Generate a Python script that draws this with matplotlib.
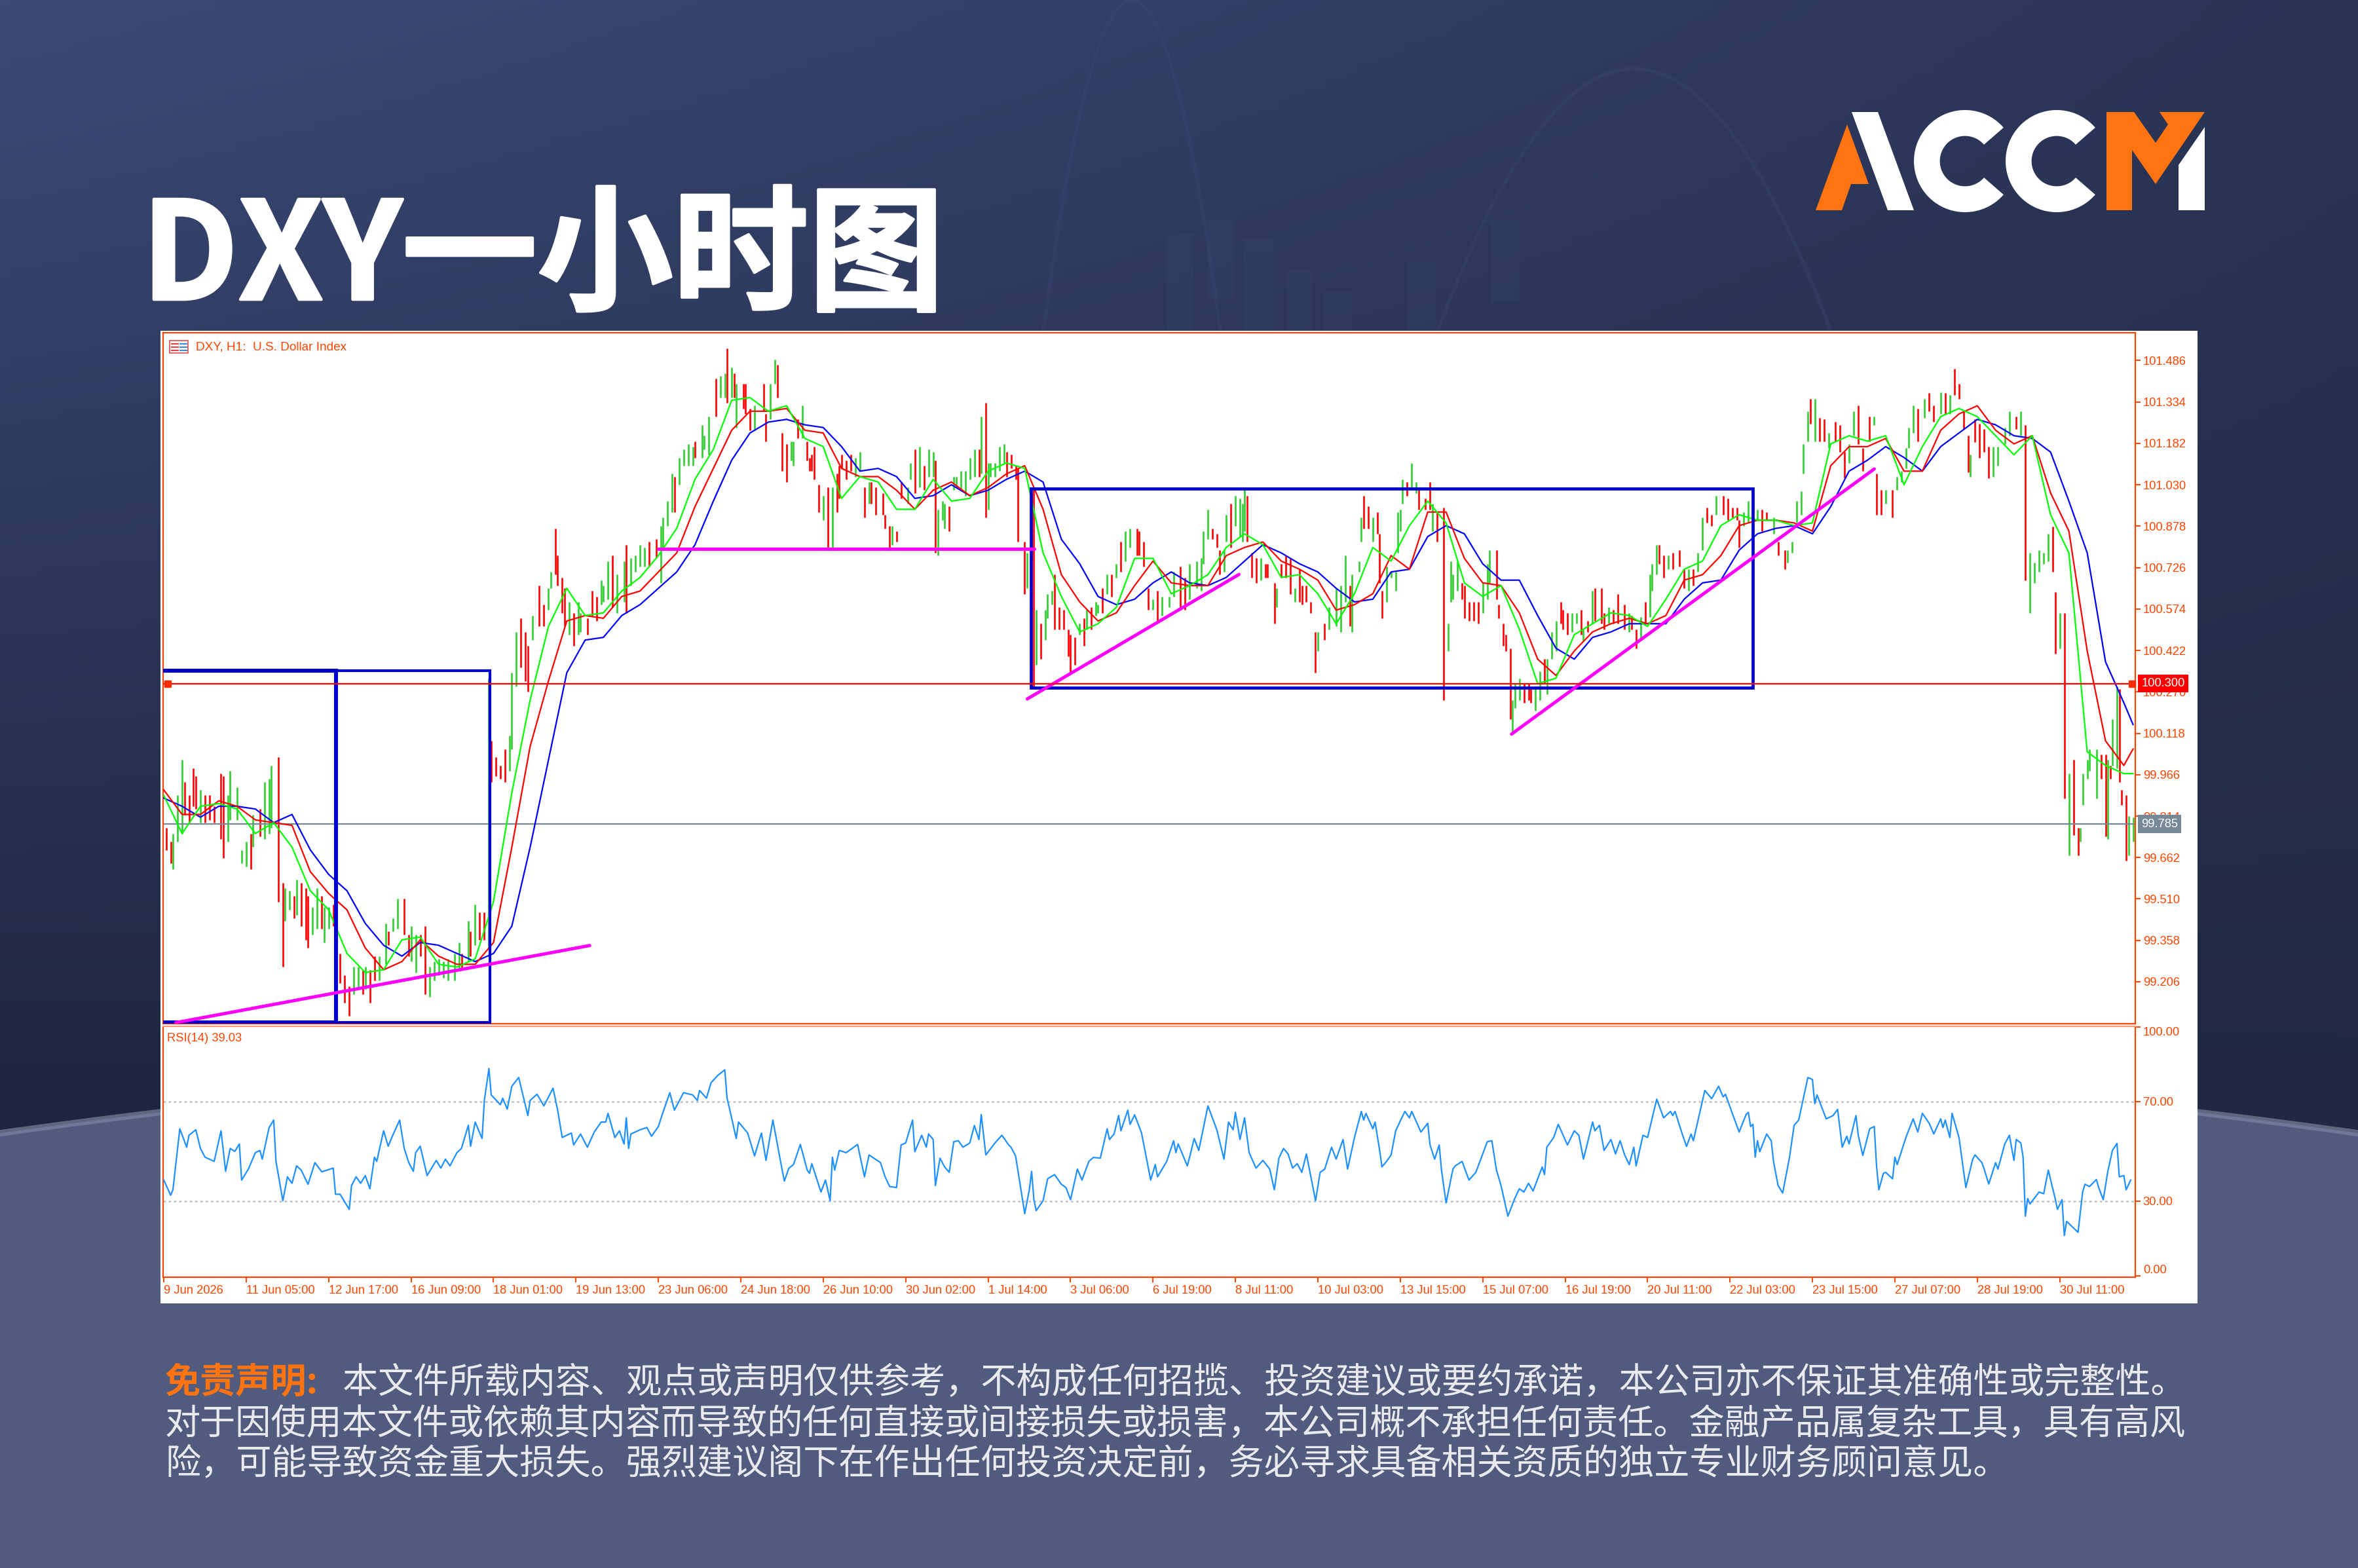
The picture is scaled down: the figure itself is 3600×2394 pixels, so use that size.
# -*- coding: utf-8 -*-

import numpy as np
import matplotlib

matplotlib.use("Agg")
import matplotlib.pyplot as plt
import matplotlib.patheffects as pe
from matplotlib.patches import Polygon, Rectangle

# ---------------
# Chart data
# x positions are hourly bars counted from 9 Jun 2026
# ---------------

bar_pos_a = [
    1, 3, 4, 6, 8, 9, 11, 13, 14, 16, 18, 20, 22, 25, 26, 28, 29, 32, 34, 36,
    38, 39, 42, 44, 46, 47, 50, 52, 53, 55, 57, 58, 60, 62, 63, 65, 67, 69, 70, 72,
    74, 75, 77, 79, 81, 83, 85, 87, 88, 90, 92, 94, 97, 98, 100, 102, 105, 107, 108, 110,
    112, 114, 116, 118, 120, 122, 124, 127, 129, 130, 133, 134, 136, 138, 140, 142, 143, 145, 147, 149,
    151, 152, 154, 156, 158, 159, 161, 164, 166, 168, 169, 171, 172, 174, 175, 177, 179, 181, 182, 185,
    187, 189, 191, 192, 194, 196, 198, 201, 202, 204, 206, 208, 210, 212, 215, 217, 218, 220, 222, 223,
    225, 227, 229, 231, 232, 235, 236, 238, 241, 243, 245, 246, 248, 249, 250, 253, 254, 256, 258, 262,
    263, 265, 267, 268, 270, 272, 274, 275, 277, 279, 281, 282,
]
bar_low_a = [
    99.69, 99.64, 99.62, 99.72, 99.75, 99.82, 99.79, 99.85, 99.84, 99.79, 99.79, 99.80, 99.79, 99.73, 99.66, 99.72, 99.80, 99.80, 99.64, 99.63,
    99.62, 99.70, 99.74, 99.73, 99.75, 99.77, 99.50, 99.26, 99.43, 99.47, 99.44, 99.45, 99.41, 99.36, 99.33, 99.38, 99.40, 99.40, 99.35, 99.40,
    99.41, 99.14, 99.20, 99.13, 99.08, 99.16, 99.18, 99.16, 99.18, 99.13, 99.21, 99.21, 99.27, 99.34, 99.39, 99.40, 99.38, 99.30, 99.28, 99.24,
    99.30, 99.16, 99.15, 99.21, 99.23, 99.22, 99.21, 99.21, 99.25, 99.25, 99.28, 99.30, 99.34, 99.36, 99.36, 99.33, 99.94, 99.96, 99.95, 99.94,
    99.98, 100.06, 100.29, 100.36, 100.31, 100.27, 100.46, 100.51, 100.51, 100.57, 100.65, 100.70, 100.66, 100.56, 100.51, 100.48, 100.44, 100.48, 100.49, 100.48,
    100.55, 100.53, 100.59, 100.60, 100.61, 100.58, 100.56, 100.60, 100.56, 100.66, 100.71, 100.73, 100.73, 100.73, 100.76, 100.67, 100.80, 100.88, 100.93, 100.93,
    101.03, 101.10, 101.10, 101.10, 101.13, 101.13, 101.16, 101.14, 101.28, 101.35, 101.35, 101.33, 101.35, 101.35, 101.24, 101.31, 101.29, 101.23, 101.23, 101.30,
    101.19, 101.27, 101.40, 101.35, 101.08, 101.04, 101.12, 101.10, 101.20, 101.20, 101.12, 101.08,
]
bar_high_a = [
    99.77, 99.72, 99.75, 99.89, 100.02, 99.94, 99.89, 99.99, 99.96, 99.91, 99.89, 99.89, 99.85, 99.97, 99.96, 99.89, 99.98, 99.92, 99.69, 99.72,
    99.75, 99.82, 99.84, 99.94, 99.95, 100.00, 100.03, 99.57, 99.55, 99.54, 99.52, 99.58, 99.57, 99.55, 99.52, 99.48, 99.55, 99.52, 99.48, 99.48,
    99.49, 99.30, 99.31, 99.23, 99.19, 99.26, 99.26, 99.25, 99.26, 99.25, 99.30, 99.30, 99.42, 99.39, 99.44, 99.51, 99.51, 99.38, 99.41, 99.38,
    99.38, 99.41, 99.26, 99.28, 99.29, 99.28, 99.29, 99.31, 99.35, 99.31, 99.43, 99.39, 99.49, 99.46, 99.46, 100.32, 100.09, 100.03, 100.00, 100.06,
    100.11, 100.34, 100.49, 100.54, 100.49, 100.44, 100.55, 100.66, 100.59, 100.65, 100.71, 100.87, 100.77, 100.69, 100.65, 100.60, 100.56, 100.60, 100.56, 100.54,
    100.64, 100.62, 100.68, 100.66, 100.75, 100.77, 100.70, 100.75, 100.81, 100.76, 100.77, 100.81, 100.80, 100.82, 100.83, 100.88, 100.91, 100.97, 101.07, 101.06,
    101.13, 101.16, 101.18, 101.17, 101.19, 101.25, 101.21, 101.28, 101.42, 101.43, 101.44, 101.53, 101.46, 101.44, 101.40, 101.40, 101.40, 101.31, 101.32, 101.40,
    101.29, 101.40, 101.49, 101.47, 101.22, 101.18, 101.19, 101.19, 101.27, 101.32, 101.19, 101.13,
]
bar_col_a = (
    "rrgggrrrrgrrrrrggggg"
    "rgrgggrrggrgrrrggrgg"
    "rgrrrggrgrrggrggrrgg"
    "rrgggggggrgrgrrgrrrr"
    "gggrrrgrrggrrrrgrggr"
    "rrgggrggrggggrrggggr"
    "ggggrgggrggrgrgrrrgr"
    "rggrrrggrgrr"
)

bar_pos_b = [
    283, 284, 286, 288, 290, 292, 294, 295, 296, 298, 300, 302, 304, 306, 308, 309, 311, 314, 315, 317,
    318, 320, 322, 325, 326, 328, 330, 332, 334, 336, 337, 338, 340, 341, 343, 345, 346, 348, 350, 352,
    354, 356, 357, 359, 360, 361, 363, 365, 367, 368, 370, 372, 373, 376, 377, 379, 380, 381, 383, 385,
    386, 388, 389, 391, 393, 395, 396, 398, 400, 402, 403, 405, 407, 408, 410, 412, 414, 416, 418, 420,
    422, 425, 426, 428, 430, 432, 434, 436, 439, 441, 444, 446, 448, 451, 453, 454, 456, 458, 460, 461,
    463, 464, 466, 468, 470, 471, 472, 473, 475, 477, 479, 481, 482, 485, 486, 488, 490, 492, 494, 496,
    497, 499, 501, 503, 504, 507, 509, 512, 514, 516, 518, 519, 522, 523, 524, 526, 528, 530, 531, 532,
    534, 536, 538, 539, 540, 541, 543, 545, 547, 548, 551, 553, 554, 556,
]
bar_low_b = [
    101.08, 101.05, 100.93, 100.90, 100.80, 100.80, 100.93, 100.98, 101.09, 101.05, 101.08, 101.06, 101.08, 100.91, 100.96, 100.96, 100.92, 100.92, 100.87, 100.80,
    100.81, 100.82, 100.98, 100.96, 101.05, 101.00, 101.02, 101.01, 101.06, 101.06, 100.78, 100.77, 100.90, 100.87, 100.86, 101.01, 101.02, 101.01, 100.99, 101.05,
    101.06, 101.06, 101.07, 100.91, 100.94, 101.06, 101.06, 101.08, 101.11, 101.06, 101.09, 101.05, 100.82, 100.63, 100.65, 100.75, 100.28, 100.37, 100.39, 100.46,
    100.54, 100.59, 100.50, 100.50, 100.50, 100.40, 100.34, 100.37, 100.48, 100.44, 100.50, 100.50, 100.55, 100.56, 100.56, 100.63, 100.62, 100.69, 100.71, 100.75,
    100.80, 100.77, 100.77, 100.73, 100.57, 100.57, 100.53, 100.55, 100.58, 100.62, 100.57, 100.57, 100.61, 100.65, 100.64, 100.74, 100.83, 100.83, 100.80, 100.70,
    100.71, 100.82, 100.80, 100.88, 100.84, 100.82, 100.86, 100.82, 100.69, 100.67, 100.68, 100.69, 100.69, 100.52, 100.58, 100.69, 100.69, 100.63, 100.60, 100.60,
    100.59, 100.60, 100.56, 100.34, 100.42, 100.46, 100.50, 100.51, 100.49, 100.60, 100.51, 100.49, 100.71, 100.82, 100.87, 100.87, 100.82, 100.85, 100.67, 100.54,
    100.60, 100.69, 100.64, 100.78, 100.86, 100.96, 100.99, 101.02, 101.00, 100.94, 100.94, 100.94, 100.86, 100.82,
]
bar_high_b = [
    101.14, 101.17, 101.03, 100.99, 101.02, 101.02, 101.07, 101.10, 101.14, 101.12, 101.14, 101.13, 101.15, 101.02, 101.04, 101.04, 101.02, 101.00, 100.92, 100.88,
    100.88, 100.86, 101.04, 101.02, 101.11, 101.16, 101.17, 101.10, 101.16, 101.15, 101.12, 100.94, 100.97, 100.96, 100.95, 101.06, 101.06, 101.08, 101.08, 101.13,
    101.16, 101.16, 101.28, 101.33, 101.11, 101.11, 101.11, 101.17, 101.18, 101.15, 101.14, 101.10, 101.09, 100.82, 100.78, 101.00, 101.02, 100.57, 100.52, 100.57,
    100.63, 100.64, 100.70, 100.58, 100.57, 100.50, 100.48, 100.47, 100.52, 100.54, 100.57, 100.58, 100.60, 100.59, 100.65, 100.70, 100.70, 100.74, 100.82, 100.86,
    100.87, 100.87, 100.86, 100.82, 100.65, 100.61, 100.64, 100.62, 100.62, 100.71, 100.73, 100.69, 100.74, 100.75, 100.76, 100.86, 100.94, 100.87, 100.85, 100.79,
    100.79, 100.92, 100.96, 100.99, 100.98, 100.96, 101.02, 100.99, 100.78, 100.76, 100.76, 100.74, 100.74, 100.67, 100.65, 100.74, 100.77, 100.76, 100.65, 100.72,
    100.66, 100.66, 100.60, 100.49, 100.49, 100.52, 100.58, 100.65, 100.66, 100.77, 100.66, 100.70, 100.75, 100.91, 100.99, 100.95, 100.91, 100.93, 100.85, 100.64,
    100.73, 100.71, 100.71, 100.93, 100.94, 101.05, 101.04, 101.11, 101.04, 101.01, 100.98, 101.04, 100.96, 100.93,
]
bar_col_b = (
    "rrrgrgrrrrrggrgrrrrr"
    "grrggrgrggrgggrggggg"
    "grgrgggggrrrrrggrgrg"
    "ggrrrrrrgrgrggrgrgrg"
    "grrrrgrgggrrgggggrrr"
    "ggrggggrrrgrrrgrrrgr"
    "rrrrgrggggrgggrrgrrr"
    "ggggggrggrrrgr"
)

bar_pos_c = [
    559, 561, 562, 563, 565, 567, 568, 570, 572, 574, 576, 578, 579, 582, 583, 585, 586, 588, 589, 590,
    592, 594, 596, 597, 599, 601, 603, 604, 606, 608, 610, 611, 613, 615, 617, 619, 620, 622, 624, 625,
    628, 629, 631, 633, 635, 638, 640, 641, 643, 645, 647, 649, 650, 652, 653, 655, 657, 659, 662, 664,
    666, 668, 670, 672, 674, 676, 678, 681, 683, 685, 687, 688, 690, 692, 694, 696, 698, 700, 703, 705,
    708, 709, 711, 713, 715, 716, 718, 719, 721, 723, 725, 727, 730, 732, 734, 736, 738, 740, 742, 745,
    747, 748, 750, 752, 755, 757, 759, 761, 762, 764, 766, 769, 771, 773, 776, 778, 780, 782, 784, 786,
    788, 789, 791, 793, 795, 797, 799, 801, 804, 806, 809, 811, 813, 815, 817, 819, 821, 823, 825, 826,
    828, 830, 832, 834, 836, 837, 838, 840, 841, 844, 846, 848, 849, 850, 851, 853, 854, 855, 857, 858, 860,
]
bar_low_c = [
    100.24, 100.42, 100.60, 100.61, 100.64, 100.61, 100.54, 100.53, 100.53, 100.52, 100.56, 100.61, 100.67, 100.61, 100.54, 100.44, 100.42, 100.17, 100.12, 100.21,
    100.24, 100.23, 100.24, 100.23, 100.20, 100.24, 100.30, 100.26, 100.39, 100.42, 100.52, 100.50, 100.48, 100.49, 100.52, 100.48, 100.455, 100.49, 100.52, 100.53,
    100.52, 100.50, 100.52, 100.52, 100.52, 100.50, 100.49, 100.50, 100.43, 100.46, 100.52, 100.545, 100.64, 100.70, 100.74, 100.69, 100.72, 100.72, 100.73, 100.65,
    100.64, 100.66, 100.71, 100.79, 100.89, 100.88, 100.92, 100.92, 100.90, 100.91, 100.90, 100.80, 100.88, 100.89, 100.79, 100.90, 100.86, 100.90, 100.85, 100.77,
    100.72, 100.745, 100.78, 100.89, 100.92, 101.07, 101.19, 101.255, 101.19, 101.19, 101.19, 101.166, 101.19, 101.15, 101.055, 101.11, 101.21, 101.18, 101.08, 101.19,
    101.25, 100.92, 100.92, 100.96, 100.91, 101.01, 101.04, 101.09, 101.166, 101.22, 101.19, 101.276, 101.30, 101.26, 101.29, 101.29, 101.29, 101.36, 101.345, 101.235,
    101.076, 101.06, 101.186, 101.13, 101.15, 101.055, 101.06, 101.10, 101.18, 101.21, 101.235, 101.21, 100.68, 100.56, 100.67, 100.71, 100.74, 100.75, 100.71, 100.41,
    100.43, 99.88, 99.67, 99.745, 99.67, 99.72, 99.855, 99.95, 99.98, 99.88, 99.95, 99.74, 99.73, 99.95, 100.00, 99.99, 99.94, 99.855, 99.65, 99.67, 99.72,
]
bar_high_c = [
    100.945, 100.52, 100.75, 100.70, 100.75, 100.67, 100.66, 100.60, 100.60, 100.60, 100.67, 100.74, 100.79, 100.79, 100.59, 100.52, 100.48, 100.43, 100.24, 100.30,
    100.32, 100.30, 100.30, 100.28, 100.28, 100.345, 100.39, 100.39, 100.49, 100.53, 100.60, 100.57, 100.56, 100.56, 100.56, 100.57, 100.50, 100.53, 100.64, 100.65,
    100.65, 100.56, 100.58, 100.57, 100.63, 100.59, 100.56, 100.55, 100.50, 100.545, 100.60, 100.70, 100.74, 100.81, 100.81, 100.77, 100.77, 100.78, 100.79, 100.72,
    100.72, 100.72, 100.78, 100.91, 100.945, 100.92, 100.99, 100.99, 100.98, 100.945, 100.945, 100.90, 100.93, 100.97, 100.92, 100.94, 100.94, 100.93, 100.91, 100.82,
    100.79, 100.79, 100.82, 100.97, 101.007, 101.18, 101.30, 101.345, 101.345, 101.276, 101.27, 101.22, 101.26, 101.25, 101.15, 101.18, 101.30, 101.32, 101.165, 101.28,
    101.28, 101.07, 101.01, 101.01, 101.01, 101.06, 101.08, 101.166, 101.24, 101.32, 101.31, 101.345, 101.366, 101.32, 101.37, 101.366, 101.36, 101.455, 101.40, 101.30,
    101.21, 101.14, 101.27, 101.255, 101.235, 101.17, 101.17, 101.17, 101.24, 101.30, 101.28, 101.30, 101.25, 100.78, 100.745, 100.79, 100.78, 100.85, 100.876, 100.635,
    100.56, 100.56, 99.97, 100.02, 99.77, 99.77, 99.97, 100.02, 100.06, 100.06, 100.04, 100.04, 100.02, 100.00, 100.17, 100.29, 100.28, 99.91, 99.89, 99.814, 99.81,
]
bar_col_c = (
    "rggggrrrrrgggrrrrrgg"
    "grrrggrgggrrrggrgrgr"
    "rrgrrrgrrgrgggrrgrrr"
    "grggrrgrrrrrggrgrrgr"
    "rggggggrgrrgrrrggrrr"
    "grrgrgggggrgrrgrgrrr"
    "rgrrrrggggrgrgggggrr"
    "grgrrgggggrrgrggrrrgg"
)

ma_pos = list(range(0, 864, 8)) + [860]
ma_green = [
    99.89, 99.75, 99.85, 99.86, 99.84, 99.75, 99.79, 99.70, 99.54, 99.47, 99.31, 99.24, 99.25, 99.36, 99.37, 99.27, 99.26, 99.29,
    99.50, 99.90, 100.24, 100.51, 100.65, 100.55, 100.56, 100.64, 100.69, 100.77, 100.87, 101.05, 101.16, 101.34, 101.35, 101.30, 101.32, 101.20,
    101.17, 100.98, 101.06, 101.04, 100.94, 100.94, 101.05, 100.97, 100.98, 101.08, 101.11, 101.09, 100.78, 100.62, 100.49, 100.52, 100.58, 100.76,
    100.76, 100.63, 100.66, 100.70, 100.80, 100.85, 100.81, 100.69, 100.70, 100.63, 100.52, 100.63, 100.80, 100.75, 100.88, 100.97, 100.89, 100.67,
    100.62, 100.66, 100.50, 100.30, 100.32, 100.48, 100.52, 100.56, 100.55, 100.51, 100.61, 100.72, 100.75, 100.88, 100.92, 100.90, 100.90, 100.88,
    100.89, 101.18, 101.21, 101.19, 101.21, 101.03, 101.17, 101.28, 101.31, 101.28, 101.21, 101.14, 101.21, 100.92, 100.78, 100.05, 100.00, 99.97, 99.97,
]
ma_red = [
    99.91, 99.82, 99.82, 99.87, 99.85, 99.80, 99.79, 99.78, 99.61, 99.53, 99.47, 99.33, 99.25, 99.28, 99.36, 99.30, 99.27, 99.27,
    99.35, 99.70, 100.07, 100.31, 100.53, 100.55, 100.54, 100.62, 100.64, 100.71, 100.78, 100.95, 101.09, 101.23, 101.30, 101.30, 101.31, 101.23,
    101.22, 101.09, 101.06, 101.06, 101.01, 100.94, 101.01, 101.04, 100.99, 101.02, 101.07, 101.10, 100.94, 100.70, 100.60, 100.53, 100.56, 100.66,
    100.75, 100.67, 100.66, 100.66, 100.77, 100.80, 100.82, 100.75, 100.72, 100.68, 100.57, 100.59, 100.63, 100.77, 100.72, 100.93, 100.93, 100.76,
    100.67, 100.66, 100.56, 100.39, 100.33, 100.42, 100.49, 100.52, 100.54, 100.52, 100.55, 100.68, 100.70, 100.77, 100.88, 100.90, 100.90, 100.89,
    100.86, 101.10, 101.17, 101.17, 101.20, 101.08, 101.08, 101.23, 101.29, 101.32, 101.23, 101.18, 101.21, 101.00, 100.86, 100.42, 100.09, 100.00, 100.06,
]
ma_blue = [
    99.88, 99.85, 99.81, 99.85, 99.85, 99.84, 99.79, 99.82, 99.69, 99.60, 99.54, 99.42, 99.34, 99.30, 99.35, 99.34, 99.31, 99.28,
    99.31, 99.41, 99.70, 100.02, 100.34, 100.46, 100.47, 100.55, 100.59, 100.65, 100.71, 100.81, 100.97, 101.12, 101.22, 101.26, 101.27, 101.25,
    101.24, 101.17, 101.08, 101.09, 101.06, 100.98, 100.99, 101.03, 100.99, 101.01, 101.05, 101.08, 101.04, 100.83, 100.74, 100.62, 100.59, 100.61,
    100.67, 100.71, 100.67, 100.66, 100.69, 100.75, 100.81, 100.78, 100.74, 100.71, 100.65, 100.60, 100.61, 100.71, 100.72, 100.84, 100.88, 100.85,
    100.74, 100.68, 100.68, 100.55, 100.43, 100.39, 100.47, 100.49, 100.52, 100.52, 100.52, 100.61, 100.67, 100.68, 100.79, 100.85, 100.87, 100.88,
    100.85, 100.95, 101.08, 101.12, 101.17, 101.13, 101.08, 101.17, 101.22, 101.27, 101.25, 101.21, 101.20, 101.15, 100.97, 100.78, 100.38, 100.23, 100.15,
]

rsi_pos = [
    0, 3, 4, 7, 10, 11, 14, 16, 18, 22, 25, 27, 29, 31, 33, 34, 37, 40, 42, 43, 46, 48, 49, 52, 54, 56, 58, 60, 63, 66,
    69, 74, 75, 77, 81, 82, 84, 86, 88, 90, 92, 93, 96, 98, 100, 103, 105, 107, 109, 110, 112, 115, 119, 121, 123, 125, 128, 130, 133, 134,
    136, 139, 140, 142, 143, 147, 148, 150, 152, 155, 159, 160, 163, 166, 170, 172, 174, 178, 179, 182, 185, 188, 191, 193, 194, 197, 199, 201, 202, 203,
    204, 208, 211, 213, 216, 218, 221, 223, 227, 231, 233, 234, 237, 239, 242, 245, 246, 247, 250, 251, 255, 258, 261, 263, 266, 269, 271, 273, 275, 278,
    281, 282, 283, 287, 289, 291, 292, 293, 295, 298, 303, 306, 308,
    313, 315, 317, 320, 322, 324, 327, 328, 331, 333, 334, 336, 337, 339, 341, 343, 345, 347, 349, 352, 354, 356, 357, 359, 363, 366, 369, 370, 372, 376,
    378, 379, 380, 381, 384, 386, 389, 392, 394, 396, 399, 401, 404, 406, 409, 412, 413, 415, 417, 418, 421, 422, 424, 427, 431, 433, 434, 438, 441, 442,
    443, 447, 448, 450, 452, 456, 459, 460, 463, 465, 467, 468, 470, 472, 474, 477, 480, 483, 485, 487, 489, 491, 493, 495, 497, 499, 503, 505, 507, 510,
    512, 515, 517, 520, 523, 524, 525, 528, 529, 531, 532, 534, 536, 538, 542, 544, 545, 549, 552, 553, 555, 557, 558, 560, 563, 564, 567, 570, 573, 578,
    580, 582, 584, 587, 590, 592, 594, 596, 598, 602, 603, 604, 607, 609, 613,
    616, 618, 620, 624, 625, 627, 629, 632, 634, 636, 638, 640, 642, 643, 646, 648, 652, 655, 658, 659, 660, 663, 665, 667, 668, 673, 676, 679, 681, 682,
    685, 688, 691, 692, 693, 694, 695, 696, 697, 700, 702, 703, 705, 707, 710, 712, 714, 718, 720, 721, 722, 726, 729, 731, 733, 735, 736, 739, 740, 742,
    745, 747, 748, 749, 751, 752, 755, 756, 757, 761, 764, 766, 768, 771, 773, 776, 777, 778, 780, 781, 784, 787, 790, 791, 794, 795, 797, 800, 801, 804,
    806, 808, 809, 811, 812, 813, 814, 815, 819, 821, 823, 826, 827, 829, 830, 831, 836, 838, 839, 841, 844, 845, 847, 849, 851, 853, 854, 856, 857, 859,
]
rsi_val = [
    38.5, 32.4, 34.6, 59.1, 51.7, 56.5, 58.7, 51.2, 47.7, 46, 58.3, 42, 51.2, 50, 53, 38.5, 43, 49.5, 50.4, 46.9, 59.6, 62.6, 46, 30.2, 39.8, 37.2, 44.2, 42.5, 36.8, 45.5,
    41.8, 43.3, 32.8, 32.8, 26.7, 36.3, 39.8, 37.2, 40.3, 35, 47.7, 46, 58.3, 52.1, 56.5, 62.6, 51.2, 45.5, 42, 49.5, 52.1, 40.3, 46.4, 43.3, 46.9, 44.2, 49.5, 51.2, 60.5, 52.1,
    61.8, 55.2, 70.5, 83.3, 72.7, 68.8, 71.4, 67, 76.2, 79.7, 64.4, 70.5, 73, 68.3, 75.4, 66.6, 55.6, 57.4, 52.6, 57, 51.7, 57.8, 61.8, 61.8, 65.3, 55.6, 58.3, 53, 63.5, 51.2,
    57, 58.7, 59.6, 56.1, 60, 65.7, 73.6, 66.6, 73.6, 72.7, 70.5, 74.5, 71.4, 77.6, 80.6, 82.8, 71.4, 67.5, 55.2, 61.8, 57.4, 48.2, 57.4, 46.4, 62.6, 47.7, 38.1, 43.3, 44.7, 52.8,
    42.5, 41.2, 45.1, 33.7, 38.5, 30.2, 47.7, 42.5, 50.4, 49.5, 52.8, 39.8, 48.6,
    45.5, 39.8, 35.9, 35.5, 52.6, 53.4, 62.6, 49.9, 56.5, 51.7, 57, 54.8, 36.3, 47.3, 43.8, 41.6, 53.9, 54.3, 51.7, 53.4, 60.4, 54.8, 64.8, 48.6, 53.4, 56.5, 52.6, 51.7, 48.2, 25,
    34.6, 42, 30.6, 26.2, 30.2, 39, 40.7, 36.8, 35.5, 30.6, 42.9, 38.5, 46, 47.6, 47.3, 59.1, 54.8, 57, 64.4, 58.3, 66.6, 60.9, 64.7, 57.4, 38.5, 44.7, 39.8, 46, 54.3, 49.5,
    53, 44.2, 47.7, 55.2, 50.4, 68.3, 60.9, 58.3, 46.9, 61.8, 58.7, 65.7, 54.8, 63.5, 49.5, 43.3, 46.4, 42.9, 34.6, 47.3, 51.2, 49, 43.3, 45.1, 41.6, 49, 30.2, 41.6, 42.9, 51.7,
    46.9, 54.8, 42.9, 55.6, 66.1, 62.6, 65.3, 59.1, 61.8, 50.4, 43.8, 46, 48.6, 58.3, 66.1, 63.5, 66.1, 57.8, 61.3, 52.6, 46.9, 52.6, 42.5, 29.3, 42.9, 44.2, 46, 38.5, 41.6, 53.9,
    54.3, 42.5, 36.3, 24, 31.1, 35, 33.7, 37.2, 34.1, 43.8, 40.7, 51.7, 55.6, 60.9, 52.6,
    58.3, 56.5, 46.9, 61.8, 58.3, 60.5, 50.4, 54.8, 49, 54.3, 48.6, 44.7, 51.7, 44.2, 56.5, 55.6, 71, 63.5, 66.1, 64.4, 66.1, 57.4, 52, 57, 54.3, 74.5, 71.2, 76.2, 71.9, 73,
    65.3, 57.8, 64.8, 65.7, 60, 60.9, 47.7, 54.3, 49.9, 57, 54.3, 46, 36.3, 33.3, 47.7, 60.5, 62.6, 79.7, 78.9, 69.2, 72.7, 63.1, 64.4, 66.9, 51.7, 56.1, 53, 64.4, 56.5, 48.4,
    59.1, 60, 44.2, 34.6, 41.2, 41.6, 39, 47.7, 44.7, 56.1, 63.1, 57.8, 65.3, 61.3, 57, 63.1, 59.6, 62.6, 55.6, 65.3, 55.6, 35.5, 46.9, 48.6, 45.5, 42.9, 36.9, 45.5, 42.9, 53,
    56.5, 46.4, 54.8, 53.4, 47.7, 24, 31.1, 28.9, 33.7, 33, 42.5, 31.1, 26.7, 30.6, 16.2, 21.9, 17.5, 33.7, 36.8, 35.9, 38.7, 35.5, 30.6, 42, 50.4, 53.2, 39.8, 40.3, 34.6, 38.5,
]

# Hand drawn objects on the chart: bar positions and prices
box_left = (-3.0, 75.2, 99.057, 100.348)
box_mid = (75.2, 142.5, 99.057, 100.348)
box_right = (378.8, 694.0, 100.285, 101.017)
trend_1 = ([5.3, 186.0], [99.056, 99.339])
trend_2 = ([216.0, 380.2], [100.794, 100.794])
trend_3 = ([377.1, 469.6], [100.244, 100.701])
trend_4 = ([588.6, 747.0], [100.115, 101.088])
level_red = 100.300
level_last = 99.785

price_ticks = [101.486, 101.334, 101.182, 101.030, 100.878, 100.726, 100.574, 100.422,
               100.270, 100.118, 99.966, 99.814, 99.662, 99.510, 99.358, 99.206]
date_labels = ["9 Jun 2026", "11 Jun 05:00", "12 Jun 17:00", "16 Jun 09:00", "18 Jun 01:00",
               "19 Jun 13:00", "23 Jun 06:00", "24 Jun 18:00", "26 Jun 10:00", "30 Jun 02:00",
               "1 Jul 14:00", "3 Jul 06:00", "6 Jul 19:00", "8 Jul 11:00", "10 Jul 03:00",
               "13 Jul 15:00", "15 Jul 07:00", "16 Jul 19:00", "20 Jul 11:00", "22 Jul 03:00",
               "23 Jul 15:00", "27 Jul 07:00", "28 Jul 19:00", "30 Jul 11:00"]
rsi_ticks = [100, 70, 30, 0]

disclaimer_head = "免责声明:"
disclaimer_1 = "本文件所载内容、观点或声明仅供参考\uff0c不构成任何招揽、投资建议或要约承诺\uff0c本公司亦不保证其准确性或完整性。"
disclaimer_2 = "对于因使用本文件或依赖其内容而导致的任何直接或间接损失或损害\uff0c本公司概不承担任何责任。金融产品属复杂工具\uff0c具有高风"
disclaimer_3 = "险\uff0c可能导致资金重大损失。强烈建议阁下在作出任何投资决定前\uff0c务必寻求具备相关资质的独立专业财务顾问意见。"

# ---------------
# Layout (pixels of the 3600x2394 picture)
# ---------------

W, H = 3600, 2394
AX_L, AX_R = 249, 3260
MAIN_T, MAIN_B = 508, 1563
RSI_T, RSI_B = 1567, 1950
ORANGE = "#ff4500"
ORANGE_LOGO = "#ff7310"
TICK_FONT = "Liberation Sans"
TICK_SIZE = 13.2
CJK = ["Noto Sans CJK SC", "DejaVu Sans"]
BLUE_BOX = "#0000cd"
MAGENTA = "#ff00ff"


def px_axes(left, top, right, bottom):
    return fig.add_axes([left / W, 1 - bottom / H, (right - left) / W, (bottom - top) / H])


fig = plt.figure(figsize=(W / 100, H / 100), dpi=100)

# ---------------
# Background, logo and big texts
# ---------------

deco = fig.add_axes([0, 0, 1, 1], zorder=0)

u, v = np.meshgrid(np.linspace(0, 1, 240), np.linspace(0, 1, 160))
tl, tr = np.array([0x3b, 0x4a, 0x77]), np.array([0x2a, 0x34, 0x55])
bl, br = np.array([0x1d, 0x24, 0x3e]), np.array([0x20, 0x28, 0x42])
grad = np.zeros(u.shape + (3,))
for n in range(3):
    top_row = tl[n] * (1 - u) + tr[n] * u
    low_row = bl[n] * (1 - u) + br[n] * u
    grad[..., n] = (top_row * (1 - v) + low_row * v) / 255
deco.imshow(grad, extent=(0, W, 1760, 0), aspect="auto", zorder=0)
deco.set_xlim(0, W)
deco.set_ylim(H, 0)
deco.axis("off")

# faint shapes behind the title
for x0, peak, half, ybase in [(1728, 0, 135, 505), (2495, 105, 300, 505)]:
    xs = np.linspace(x0 - half * 1.2, x0 + half * 1.2, 80)
    ys = peak + (ybase - peak) * ((xs - x0) / half) ** 2
    deco.plot(xs, ys, color="#3d4b76", lw=4, alpha=0.3, zorder=1)
for x0, x1, y0, y1 in [(1782, 1822, 355, 505), (1844, 1885, 335, 455), (1898, 1944, 365, 505),
                       (1964, 2005, 412, 505), (2022, 2064, 443, 505), (2147, 2192, 400, 505),
                       (2275, 2320, 335, 462)]:
    deco.add_patch(Rectangle((x0, y0), x1 - x0, y1 - y0, fc="#3d4b76", ec="none", alpha=0.2, zorder=1))

# lower band with its arched edge
arc_x = np.linspace(0, W, 200)
arc_y = 1599 + 3.893e-5 * (arc_x - 1800) ** 2
deco.fill_between(arc_x, arc_y, H, color="#5f667f", lw=0, zorder=2)
deco.fill_between(arc_x, arc_y + 5, H, color="#6e7898", lw=0, zorder=2)
deco.fill_between(arc_x, arc_y + 10, H, color="#505b7e", lw=0, zorder=2)

# logo
deco.add_patch(Polygon([(2772, 321), (2820, 190), (2853, 281), (2826, 281), (2812, 321)], fc=ORANGE_LOGO, ec="none", zorder=5))
deco.add_patch(Polygon([(2827, 171), (2867, 171), (2922, 321), (2882, 321)], fc="white", ec="none", zorder=5))
ang = np.radians(np.linspace(41, 319, 90))
for cx in [3000, 3140]:
    ring = np.concatenate([
        np.column_stack([cx + 78 * np.cos(ang), 246 - 78 * np.sin(ang)]),
        np.column_stack([cx + 38.4 * np.cos(ang[::-1]), 246 - 38.4 * np.sin(ang[::-1])]),
    ])
    deco.add_patch(Polygon(ring, fc="white", ec="none", zorder=5))
deco.add_patch(Polygon([(3216, 171), (3258, 171), (3291, 218), (3310, 190), (3297, 171), (3366, 171), (3291, 281),
                        (3255, 229), (3255, 321), (3216, 321)], fc=ORANGE_LOGO, ec="none", zorder=5))
deco.add_patch(Polygon([(3366, 194), (3366, 321), (3326, 321), (3326, 252)], fc="white", ec="none", zorder=5))

deco.text(216, 397, "DXY一小时图", color="white", fontsize=149, fontweight="bold", family=CJK,
          va="center", ha="left", zorder=5,
          path_effects=[pe.withStroke(linewidth=3, foreground="white")])

deco.text(252, 2111, disclaimer_head, color=ORANGE_LOGO, fontsize=39, fontweight="bold", family=CJK,
          va="center", ha="left", zorder=5)
for x_txt, y_txt, line in [(523, 2111, disclaimer_1), (252, 2174, disclaimer_2), (252, 2236, disclaimer_3)]:
    deco.text(x_txt, y_txt, line, color="#e9e9ee", fontsize=39, family=CJK, va="center", ha="left", zorder=5)

# white chart panel
deco.add_patch(Rectangle((245, 505), 3355 - 245, 1990 - 505, fc="white", ec="none", zorder=4))

# legend icon and captions
deco.add_patch(Rectangle((259, 520), 28, 19, fc="#f4f4f4", ec="#d9534f", lw=1.2, zorder=5))
for yy in [525, 530, 535]:
    deco.plot([262, 272], [yy, yy], color="#e03030", lw=1.3, zorder=6)
    deco.plot([275, 285], [yy, yy], color="#2a7fd0", lw=1.3, zorder=6)
deco.text(299, 530, "DXY, H1:  U.S. Dollar Index", color=ORANGE, fontsize=13.7, family=TICK_FONT,
          va="center", ha="left", zorder=6)
deco.text(255, 1585, "RSI(14) 39.03", color=ORANGE, fontsize=TICK_SIZE, family=TICK_FONT,
          va="center", ha="left", zorder=6)

# ---------------
# Price panel
# ---------------

bar_pos = bar_pos_a + bar_pos_b + bar_pos_c
bar_low = bar_low_a + bar_low_b + bar_low_c
bar_high = bar_high_a + bar_high_b + bar_high_c
bar_col = bar_col_a + bar_col_b + bar_col_c
assert len(bar_pos) == len(bar_low) == len(bar_high) == len(bar_col)
assert len(ma_pos) == len(ma_green) == len(ma_red) == len(ma_blue)
assert len(rsi_pos) == len(rsi_val)

ax = px_axes(AX_L, MAIN_T, AX_R, MAIN_B)
ax.set_zorder(2)
ax.patch.set_visible(False)
ax.set_xlim(-0.3, 861)
ax.set_ylim(99.052, 101.588)

colors = ["#ff0000" if c == "r" else "#32cd32" for c in bar_col]
ax.vlines(bar_pos, bar_low, bar_high, colors=colors, lw=1.9, zorder=2)

ax.plot(ma_pos, ma_blue, color="#0000ff", lw=1.6, zorder=3)
ax.plot(ma_pos, ma_red, color="#ff0000", lw=1.6, zorder=3.1)
ax.plot(ma_pos, ma_green, color="#00ff00", lw=1.6, zorder=3.2)

ax.axhline(level_last, color="#778899", lw=1.6, zorder=2.5)
ax.axhline(level_red, color="#ff0000", lw=1.6, zorder=4)

for (x0, x1, y0, y1), lw in [(box_left, 4.4), (box_mid, 3.0), (box_right, 3.4)]:
    ax.add_patch(Rectangle((x0, y0), x1 - x0, y1 - y0, fc="none", ec=BLUE_BOX, lw=lw, zorder=3.5))
for xs, ys in [trend_1, trend_2, trend_3, trend_4]:
    ax.plot(xs, ys, color=MAGENTA, lw=3.6, zorder=3.6, solid_capstyle="round")

ax.plot([1.7, 859.5], [level_red, level_red], "s", color="#ff2a00", ms=7, zorder=5, clip_on=False)

ax.set_yticks(price_ticks)
ax.set_yticklabels(["%.3f" % p for p in price_ticks], family=TICK_FONT, fontsize=TICK_SIZE, color=ORANGE)
ax.yaxis.tick_right()
ax.tick_params(axis="y", length=5.5, width=1.4, color=ORANGE, pad=3)
ax.set_xticks([])
for spine in ax.spines.values():
    spine.set_color(ORANGE)
    spine.set_linewidth(1.6)

ax.text(1.0031, level_red, "100.300", transform=ax.get_yaxis_transform(), color="white", fontsize=TICK_SIZE,
        family=TICK_FONT, va="center", ha="left", zorder=10, clip_on=False,
        bbox=dict(fc="#ff0000", ec="none", boxstyle="square,pad=0.28"))
ax.text(1.0031, level_last, "99.785", transform=ax.get_yaxis_transform(), color="white", fontsize=TICK_SIZE,
        family=TICK_FONT, va="center", ha="left", zorder=10, clip_on=False,
        bbox=dict(fc="#778899", ec="none", boxstyle="square,pad=0.28"))

# ---------------
# RSI panel
# ---------------

ax2 = px_axes(AX_L, RSI_T, AX_R, RSI_B)
ax2.set_zorder(2)
ax2.patch.set_visible(False)
ax2.set_xlim(-0.3, 861)
ax2.set_ylim(-0.53, 100.26)

ax2.axhline(70, color="#c4c4c4", lw=2, ls=(0, (1.3, 1.6)), zorder=1)
ax2.axhline(30, color="#c4c4c4", lw=2, ls=(0, (1.3, 1.6)), zorder=1)
ax2.plot(rsi_pos, rsi_val, color="#1e90ff", lw=1.6, zorder=3)

ax2.set_yticks(rsi_ticks)
ax2.set_yticklabels(["%.2f" % r for r in rsi_ticks], family=TICK_FONT, fontsize=TICK_SIZE, color=ORANGE)
ax2.yaxis.tick_right()
ax2.tick_params(axis="y", length=5.5, width=1.4, color=ORANGE, pad=3)
ax2.get_yticklabels()[0].set_va("top")
ax2.get_yticklabels()[3].set_va("bottom")

ax2.set_xticks(np.arange(len(date_labels)) * 36)
ax2.set_xticklabels(date_labels, family=TICK_FONT, fontsize=TICK_SIZE, color=ORANGE, ha="left")
ax2.tick_params(axis="x", length=5.5, width=1.4, color=ORANGE, pad=3)
for spine in ax2.spines.values():
    spine.set_color(ORANGE)
    spine.set_linewidth(1.6)
ax2.spines["top"].set_color("#ff9a78")

fig.savefig("out.png", dpi=100)
